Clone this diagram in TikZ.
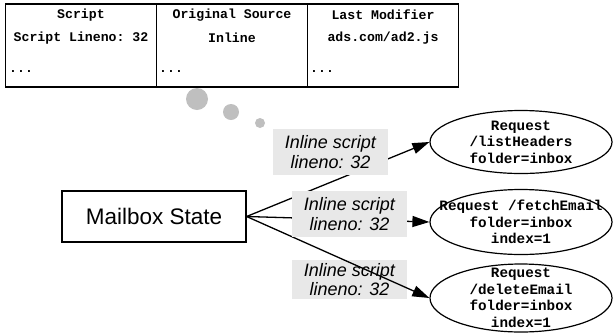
\documentclass[tikz,border=0pt]{standalone}
\usepackage{fontspec}
\setmainfont{Liberation Sans}
\setmonofont{Liberation Mono}
\usetikzlibrary{arrows.meta,shapes.geometric}

\tikzset{
  cell/.style={draw, line width=1.2pt, minimum width=151pt, minimum height=83pt, inner sep=0pt},
  celltext/.style={font=\ttfamily\bfseries\fontsize{13.2}{16}\selectfont, inner sep=0pt},
  req/.style={draw, ellipse, line width=1.2pt, minimum width=182pt, minimum height=63pt, inner sep=0pt},
  reqtext/.style={font=\ttfamily\bfseries\fontsize{14.3}{16.5}\selectfont, align=center, inner sep=0pt},
  state/.style={draw, line width=1.2pt, minimum width=184pt, minimum height=51pt, font=\fontsize{22.5}{26}\selectfont},
  tag/.style={fill=black!9, minimum width=115pt, minimum height=46pt, inner sep=0pt, align=center, font=\itshape\fontsize{18}{19.5}\selectfont},
  bubble/.style={fill=black!25, circle, inner sep=0pt},
  edge/.style={-{Triangle[length=17pt,width=11pt]}, line width=1.3pt},
}

\begin{document}
\begin{tikzpicture}[x=1pt, y=-1pt]
  \useasboundingbox (0,0) rectangle (613,333);

  % script table
  \node[cell] (c1) at (81,45.5) {};
  \node[cell] (c2) at (232,45.5) {};
  \node[cell] (c3) at (383,45.5) {};
  \node[celltext] (h1) at (81,15) {Script};
  \node[celltext] (h2) at (232,15) {Original Source};
  \node[celltext] (h3) at (383,15) {Last Modifier};
  \node[celltext] (v1) at (81,38) {Script Lineno: 32};
  \node[celltext] (v2) at (232,38) {Inline};
  \node[celltext] (v3) at (383,38) {ads.com/ad2.js};
  \node[celltext, anchor=west] (d1) at (9,72) {...};
  \node[celltext, anchor=west] (d2) at (159,72) {...};
  \node[celltext, anchor=west] (d3) at (310,72) {...};

  % thought bubbles
  \node[bubble, minimum size=22pt] (b1) at (197,99) {};
  \node[bubble, minimum size=16pt] (b2) at (231,112) {};
  \node[bubble, minimum size=10pt] (b3) at (260,123) {};

  \node[state] (mb) at (154,216.5) {Mailbox State};

  % requests
  \node[req] (lh) at (521,142) {};
  \node[reqtext] (lhtxt) at (lh) {Request\\/listHeaders\\folder=inbox};
  \node[req, minimum height=65pt] (fe) at (521,222) {};
  \node[reqtext] (fetxt) at (fe) {Request /fetchEmail\\folder=inbox\\index=1};
  \node[req, minimum height=68pt] (de) at (521,298) {};
  \node[reqtext] (detxt) at (de) {Request\\/deleteEmail\\folder=inbox\\index=1};

  \draw[edge] (mb.east) -- (lh.west);
  \draw[edge] (mb.east) -- (fe.west);
  \node[tag, minimum height=39pt] (t3) at (349.5,279.5) {Inline script\\lineno: 32};
  \draw[edge] (mb.east) -- (de.west);

  \node[tag] (t1) at (330.5,152) {Inline script\\lineno: 32};
  \node[tag] (t2) at (349.5,214) {Inline script\\lineno: 32};
\end{tikzpicture}
\end{document}
